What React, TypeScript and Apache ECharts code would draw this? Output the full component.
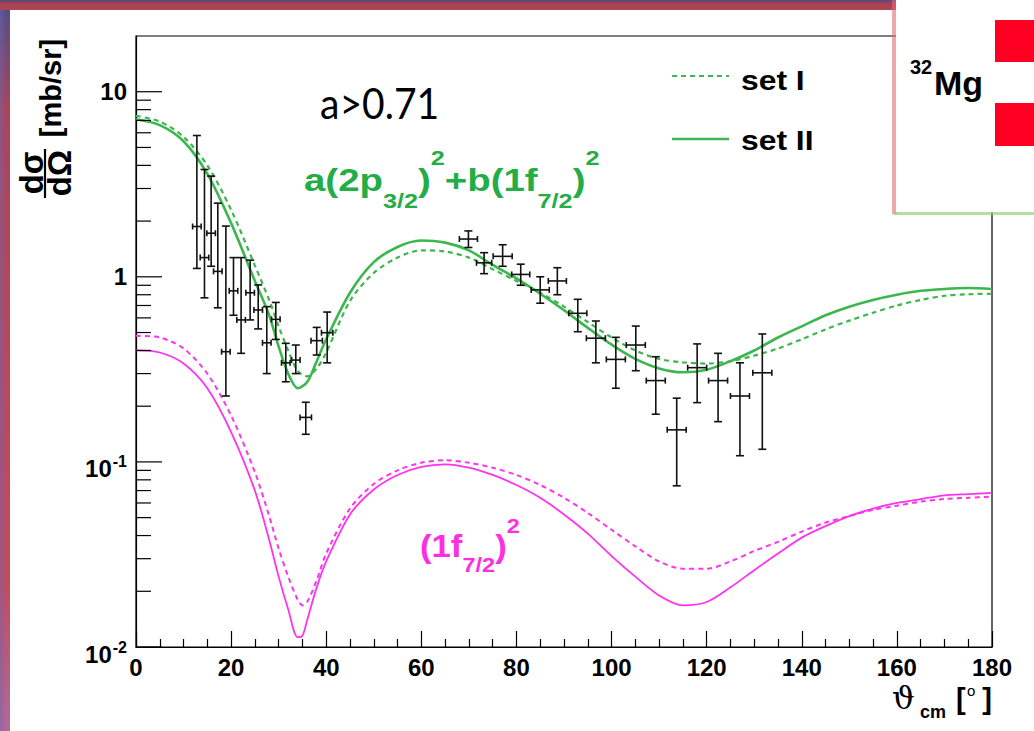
import React, { useEffect, useRef } from "react";
import * as echarts from "echarts";

// ---------- data ----------
const greenAngles = [0, 5, 10, 15, 20, 25, 28, 30, 32, 34, 36, 38, 40, 45, 50, 55, 60, 65, 70, 75, 80, 85, 90, 95, 100, 105, 110, 115, 120, 125, 130, 135, 140, 145, 150, 155, 160, 165, 170, 175, 180];
const setIIGreen = [7.1, 6.6, 5.4, 3.6, 1.95, 0.95, 0.62, 0.42, 0.3, 0.25, 0.27, 0.35, 0.46, 0.82, 1.2, 1.45, 1.57, 1.53, 1.39, 1.16, 0.98, 0.81, 0.66, 0.53, 0.43, 0.36, 0.32, 0.305, 0.315, 0.35, 0.4, 0.47, 0.54, 0.62, 0.69, 0.75, 0.8, 0.84, 0.86, 0.87, 0.86];
const setIGreen = [7.4, 6.9, 5.7, 4.0, 2.3, 1.15, 0.75, 0.54, 0.4, 0.31, 0.29, 0.32, 0.39, 0.74, 1.05, 1.27, 1.39, 1.37, 1.27, 1.1, 0.95, 0.82, 0.69, 0.57, 0.47, 0.4, 0.36, 0.345, 0.34, 0.35, 0.375, 0.41, 0.46, 0.52, 0.58, 0.64, 0.7, 0.75, 0.79, 0.805, 0.81];

const magentaAngles = [0, 5, 10, 15, 20, 25, 28, 30, 32, 34, 35, 36, 38, 40, 45, 50, 55, 60, 65, 70, 75, 80, 85, 90, 95, 100, 105, 110, 115, 120, 125, 130, 135, 140, 145, 150, 155, 160, 165, 170, 175, 180];
const setIIMagenta = [0.4, 0.39, 0.34, 0.25, 0.145, 0.07, 0.038, 0.024, 0.016, 0.0113, 0.0115, 0.014, 0.021, 0.029, 0.052, 0.071, 0.085, 0.094, 0.097, 0.093, 0.085, 0.075, 0.064, 0.052, 0.041, 0.031, 0.024, 0.019, 0.0168, 0.0175, 0.021, 0.026, 0.032, 0.039, 0.045, 0.051, 0.056, 0.06, 0.063, 0.066, 0.067, 0.068];
const setIMagenta = [0.48, 0.47, 0.41, 0.3, 0.178, 0.088, 0.051, 0.034, 0.024, 0.018, 0.0168, 0.0175, 0.023, 0.032, 0.056, 0.076, 0.09, 0.099, 0.102, 0.099, 0.093, 0.085, 0.075, 0.064, 0.053, 0.043, 0.035, 0.029, 0.0265, 0.0265, 0.029, 0.033, 0.037, 0.042, 0.047, 0.051, 0.055, 0.058, 0.061, 0.063, 0.064, 0.065];

const dataAngle = [12.8, 14.4, 15.8, 17.2, 18.9, 20.5, 22.1, 24.0, 25.7, 27.5, 29.4, 31.5, 33.6, 35.7, 38.0, 40.2, 69.9, 73.2, 77.1, 80.9, 85.0, 88.6, 92.9, 96.7, 100.9, 105.1, 109.3, 113.7, 118.0, 122.4, 127.0, 131.7];
const dataAngleErr = [0.9, 0.9, 0.9, 0.9, 0.9, 0.9, 0.9, 0.9, 0.9, 0.9, 0.9, 0.9, 0.9, 1.2, 1.2, 1.2, 1.9, 1.6, 2.0, 1.9, 1.9, 1.9, 1.9, 2.0, 2.0, 2.0, 2.0, 2.0, 2.0, 2.0, 2.0, 2.0];
const dataValue = [1.87, 1.27, 1.72, 1.07, 0.394, 0.84, 0.585, 0.82, 0.662, 0.44, 0.589, 0.343, 0.355, 0.174, 0.452, 0.499, 1.6, 1.19, 1.29, 1.03, 0.85, 0.95, 0.635, 0.466, 0.358, 0.428, 0.275, 0.149, 0.323, 0.275, 0.227, 0.303];
const dataLow = [1.11, 0.77, 1.14, 0.68, 0.227, 0.62, 0.386, 0.585, 0.523, 0.3, 0.459, 0.271, 0.3, 0.141, 0.378, 0.343, 1.44, 1.04, 1.14, 0.9, 0.72, 0.8, 0.505, 0.343, 0.25, 0.311, 0.181, 0.0743, 0.209, 0.165, 0.108, 0.117];
const dataHigh = [5.8, 3.8, 3.5, 2.5, 1.88, 1.27, 1.27, 1.23, 0.904, 0.69, 0.727, 0.437, 0.428, 0.21, 0.533, 0.645, 1.77, 1.35, 1.49, 1.17, 1.0, 1.12, 0.756, 0.577, 0.471, 0.542, 0.37, 0.221, 0.434, 0.386, 0.343, 0.491];

const yMajorTicks = [0.01, 0.1, 1, 10];
const yMinorTicks = [0.02, 0.03, 0.04, 0.05, 0.06, 0.07, 0.08, 0.09, 0.2, 0.3, 0.4, 0.5, 0.6, 0.7, 0.8, 0.9, 2, 3, 4, 5, 6, 7, 8, 9];
const yLabelMain = ["10", "10", "1", "10"];
const yLabelSup = ["-2", "-1", "", ""];

const SANS = '"Liberation Sans", Arial, Helvetica, sans-serif';
const GREEN = "#3cb64e";
const GREEN_TXT = "#22ad46";
const MAGENTA = "#ff33ee";
const MAGENTA_TXT = "#ff2ee2";

const pairs = (xs: number[], ys: number[]) => xs.map((x, i) => [x, ys[i]]);

let measureCtx: CanvasRenderingContext2D | null = null;
function textWidth(t: string, font: string) {
  if (!measureCtx) measureCtx = document.createElement("canvas").getContext("2d");
  if (!measureCtx) return t.length * 10;
  measureCtx.font = font;
  return measureCtx.measureText(t).width;
}

type Piece = { t: string; size: number; dy?: number };
function formula(pieces: Piece[], x0: number, yc: number, color: string, scaleX: number) {
  let x = 0;
  const children: any[] = [];
  for (const p of pieces) {
    const font = `bold ${p.size}px ${SANS}`;
    children.push({
      type: "text",
      x,
      y: p.dy || 0,
      style: { text: p.t, font, fill: color, textAlign: "left", textVerticalAlign: "middle" },
    });
    x += textWidth(p.t, font);
  }
  return { type: "group", x: x0, y: yc, scaleX, children };
}

export default function App() {
  const ref = useRef<HTMLDivElement>(null);

  useEffect(() => {
    document.body.style.margin = "0";
    if (!ref.current) return;
    const chart = echarts.init(ref.current, null, { renderer: "svg" });

    const supFont = `bold 16px ${SANS}`;
    const mainFont = `bold 24px ${SANS}`;

    const background = [
      {
        type: "rect",
        z: -10,
        shape: { x: 0, y: 0, width: 1034, height: 731 },
        style: {
          fill: new echarts.graphic.LinearGradient(0, 0, 0, 1, [
            { offset: 0, color: "#4d4f8c" },
            { offset: 0.15, color: "#a8465a" },
            { offset: 0.8, color: "#c24c5e" },
            { offset: 1, color: "#b06a98" },
          ]),
        },
      },
      {
        type: "rect",
        z: -10,
        shape: { x: 0, y: 0, width: 1034, height: 10 },
        style: {
          fill: new echarts.graphic.LinearGradient(0, 0, 0, 1, [
            { offset: 0, color: "#4e4c86" },
            { offset: 0.35, color: "#a6424f" },
            { offset: 1, color: "#b04553" },
          ]),
        },
      },
      {
        type: "rect",
        z: -10,
        shape: { x: 0, y: 10, width: 6, height: 721 },
        style: {
          fill: new echarts.graphic.LinearGradient(0, 0, 1, 0, [
            { offset: 0, color: "rgba(110,100,180,0.5)" },
            { offset: 1, color: "rgba(110,100,180,0)" },
          ]),
        },
      },
      { type: "rect", z: -9, shape: { x: 10, y: 10, width: 1024, height: 721 }, style: { fill: "#ffffff" } },
    ];

    const inset = [
      { type: "rect", z: 20, shape: { x: 892, y: 0, width: 5, height: 214 }, style: { fill: "rgba(225,110,120,0.6)" } },
      { type: "rect", z: 20, shape: { x: 893, y: 211, width: 141, height: 4 }, style: { fill: "rgba(150,210,120,0.7)" } },
      { type: "rect", z: 21, shape: { x: 896, y: 0, width: 138, height: 212 }, style: { fill: "#ffffff" } },
      { type: "rect", z: 22, shape: { x: 995, y: 20, width: 39, height: 42 }, style: { fill: "#ff0022" } },
      { type: "rect", z: 22, shape: { x: 995, y: 103, width: 39, height: 43 }, style: { fill: "#ff0022" } },
      {
        type: "text", z: 22, x: 910, y: 67,
        style: { text: "32", font: `bold 20px ${SANS}`, fill: "#000", textAlign: "left", textVerticalAlign: "middle" },
      },
      {
        type: "text", z: 22, x: 934, y: 83,
        style: { text: "Mg", font: `bold 34px ${SANS}`, fill: "#000", textAlign: "left", textVerticalAlign: "middle" },
      },
    ];

    const titles = [
      // y-axis title: dσ/dΩ [mb/sr], rotated
      {
        type: "text", z: 5, x: 51, y: 88, rotation: Math.PI / 2,
        style: { text: "[mb/sr]", font: `bold 29px ${SANS}`, fill: "#000", textAlign: "center", textVerticalAlign: "middle" },
      },
      {
        type: "text", z: 5, x: 31, y: 173, rotation: Math.PI / 2,
        style: { text: "dσ", font: `bold 33px ${SANS}`, fill: "#000", textAlign: "center", textVerticalAlign: "middle" },
      },
      {
        type: "text", z: 5, x: 59, y: 173, rotation: Math.PI / 2,
        style: { text: "dΩ", font: `bold 33px ${SANS}`, fill: "#000", textAlign: "center", textVerticalAlign: "middle" },
      },
      { type: "line", z: 5, shape: { x1: 45, y1: 149, x2: 45, y2: 198 }, style: { stroke: "#000", lineWidth: 2.2 } },
      // x-axis title: ϑcm [°]
      {
        type: "text", z: 5, x: 892, y: 698,
        style: { text: "ϑ", font: `32px "DejaVu Serif", "Liberation Serif", serif`, fill: "#000", textAlign: "left", textVerticalAlign: "middle" },
      },
      {
        type: "text", z: 5, x: 920, y: 712,
        style: { text: "cm", font: `bold 18px ${SANS}`, fill: "#000", textAlign: "left", textVerticalAlign: "middle" },
      },
      {
        type: "text", z: 5, x: 956, y: 699,
        style: { text: "[", font: `bold 29px ${SANS}`, fill: "#000", textAlign: "left", textVerticalAlign: "middle" },
      },
      {
        type: "text", z: 5, x: 967, y: 690,
        style: { text: "o", font: `15px ${SANS}`, fill: "#000", textAlign: "left", textVerticalAlign: "middle" },
      },
      {
        type: "text", z: 5, x: 992, y: 699,
        style: { text: "]", font: `bold 29px ${SANS}`, fill: "#000", textAlign: "right", textVerticalAlign: "middle" },
      },
      // slide annotation
      {
        type: "text", z: 5, x: 320, y: 103, scaleX: 0.93,
        style: { text: "a>0.71", font: `42px Lato, "Open Sans", sans-serif`, fill: "#000", textAlign: "left", textVerticalAlign: "middle" },
      },
      // legend
      { type: "line", z: 5, shape: { x1: 672, y1: 76, x2: 729, y2: 76 }, style: { stroke: GREEN, lineWidth: 2, lineDash: [5, 4] } },
      {
        type: "text", z: 5, x: 741, y: 80, scaleX: 1.18,
        style: { text: "set I", font: `bold 27px ${SANS}`, fill: "#000", textAlign: "left", textVerticalAlign: "middle" },
      },
      { type: "line", z: 5, shape: { x1: 672, y1: 139, x2: 729, y2: 139 }, style: { stroke: GREEN, lineWidth: 2.5 } },
      {
        type: "text", z: 5, x: 741, y: 140, scaleX: 1.18,
        style: { text: "set II", font: `bold 27px ${SANS}`, fill: "#000", textAlign: "left", textVerticalAlign: "middle" },
      },
      formula(
        [
          { t: "a(2p", size: 32 },
          { t: "3/2", size: 21, dy: 21 },
          { t: ")", size: 32 },
          { t: "2", size: 21, dy: -22 },
          { t: "+b(1f", size: 32 },
          { t: "7/2", size: 21, dy: 21 },
          { t: ")", size: 32 },
          { t: "2", size: 21, dy: -22 },
        ],
        304, 180, GREEN_TXT, 1.2
      ),
      formula(
        [
          { t: "(1f", size: 31 },
          { t: "7/2", size: 21, dy: 19 },
          { t: ")", size: 31 },
          { t: "2", size: 21, dy: -20 },
        ],
        420, 546, MAGENTA_TXT, 1.12
      ),
    ];

    const tickData = [
      ...yMajorTicks.map((v) => [0, v, 1]),
      ...yMinorTicks.map((v) => [0, v, 0]),
    ];

    const option: any = {
      animation: false,
      backgroundColor: "transparent",
      grid: { left: 136, top: 36, right: 42, bottom: 84, show: true, borderColor: "#000", borderWidth: 1.2, backgroundColor: "transparent" },
      xAxis: {
        type: "value",
        min: 0,
        max: 180,
        interval: 20,
        axisLine: { show: true, onZero: false, lineStyle: { color: "#000", width: 1.2 } },
        axisTick: { show: true, inside: true, length: 16, lineStyle: { color: "#000", width: 1.2 } },
        minorTick: { show: true, splitNumber: 4, length: 8, lineStyle: { color: "#000", width: 1.2 } },
        axisLabel: { show: true, margin: 8, color: "#000", fontSize: 24, fontWeight: "bold", fontFamily: SANS },
        splitLine: { show: false },
      },
      yAxis: {
        type: "log",
        logBase: 10,
        min: 0.01,
        max: 20,
        axisLine: { show: true, onZero: false, lineStyle: { color: "#000", width: 1.2 } },
        axisTick: { show: false },
        axisLabel: { show: false },
        splitLine: { show: false },
      },
      graphic: { elements: [...background, ...titles, ...inset] },
      series: [
        {
          name: "(1f7/2)^2 set I",
          type: "line",
          data: pairs(magentaAngles, setIMagenta),
          showSymbol: false,
          symbol: "none",
          smooth: 0.3,
          lineStyle: { color: MAGENTA, width: 2, type: [5, 4] },
          z: 3,
        },
        {
          name: "(1f7/2)^2 set II",
          type: "line",
          data: pairs(magentaAngles, setIIMagenta),
          showSymbol: false,
          symbol: "none",
          smooth: 0.3,
          lineStyle: { color: MAGENTA, width: 1.8 },
          z: 3,
        },
        {
          name: "set I",
          type: "line",
          data: pairs(greenAngles, setIGreen),
          showSymbol: false,
          symbol: "none",
          smooth: 0.3,
          lineStyle: { color: GREEN, width: 2.2, type: [5, 4] },
          z: 3,
        },
        {
          name: "set II",
          type: "line",
          data: pairs(greenAngles, setIIGreen),
          showSymbol: false,
          symbol: "none",
          smooth: 0.3,
          lineStyle: { color: GREEN, width: 2.6 },
          z: 3,
        },
        {
          name: "data",
          type: "custom",
          z: 4,
          silent: true,
          data: dataAngle.map((a, i) => [a, dataValue[i], dataAngleErr[i], dataLow[i], dataHigh[i]]),
          encode: { x: 0, y: 1 },
          renderItem: (params: any, api: any) => {
            const x = api.value(0), y = api.value(1), ex = api.value(2), lo = api.value(3), hi = api.value(4);
            const c = api.coord([x, y]);
            const l = api.coord([x - ex, y]);
            const r = api.coord([x + ex, y]);
            const t = api.coord([x, hi]);
            const b = api.coord([x, lo]);
            const st = { stroke: "#111", lineWidth: 1.6 };
            const cap = 4, cap2 = 3;
            const ln = (x1: number, y1: number, x2: number, y2: number) => ({ type: "line", shape: { x1, y1, x2, y2 }, style: st });
            return {
              type: "group",
              children: [
                ln(c[0], t[1], c[0], b[1]),
                ln(c[0] - cap, t[1], c[0] + cap, t[1]),
                ln(c[0] - cap, b[1], c[0] + cap, b[1]),
                ln(l[0], c[1], r[0], c[1]),
                ln(l[0], c[1] - cap2, l[0], c[1] + cap2),
                ln(r[0], c[1] - cap2, r[0], c[1] + cap2),
              ],
            };
          },
        },
        {
          name: "yTicks",
          type: "custom",
          z: 4,
          silent: true,
          data: tickData,
          encode: { x: 0, y: 1 },
          renderItem: (params: any, api: any) => {
            const p = api.coord([0, api.value(1)]);
            const len = api.value(2) ? 26 : 15;
            return { type: "line", shape: { x1: p[0], y1: p[1], x2: p[0] + len, y2: p[1] }, style: { stroke: "#000", lineWidth: 1.2 } };
          },
        },
        {
          name: "yLabels",
          type: "custom",
          z: 4,
          silent: true,
          clip: false,
          data: yMajorTicks.map((v) => [0, v]),
          encode: { x: 0, y: 1 },
          renderItem: (params: any, api: any) => {
            const i = params.dataIndex;
            const p = api.coord([0, api.value(1)]);
            const sup = yLabelSup[i];
            const right = 127;
            const children: any[] = [];
            if (sup) {
              const sw = textWidth(sup, supFont);
              children.push({ type: "text", x: right, y: p[1], style: { text: sup, font: supFont, fill: "#000", textAlign: "right", textVerticalAlign: "middle" } });
              children.push({ type: "text", x: right - sw - 1, y: p[1] + 7, style: { text: yLabelMain[i], font: mainFont, fill: "#000", textAlign: "right", textVerticalAlign: "middle" } });
            } else {
              children.push({ type: "text", x: right, y: p[1], style: { text: yLabelMain[i], font: mainFont, fill: "#000", textAlign: "right", textVerticalAlign: "middle" } });
            }
            return { type: "group", children };
          },
        },
      ],
    };

    chart.setOption(option);
    return () => chart.dispose();
  }, []);

  return <div ref={ref} style={{ width: 1034, height: 731 }} />;
}
